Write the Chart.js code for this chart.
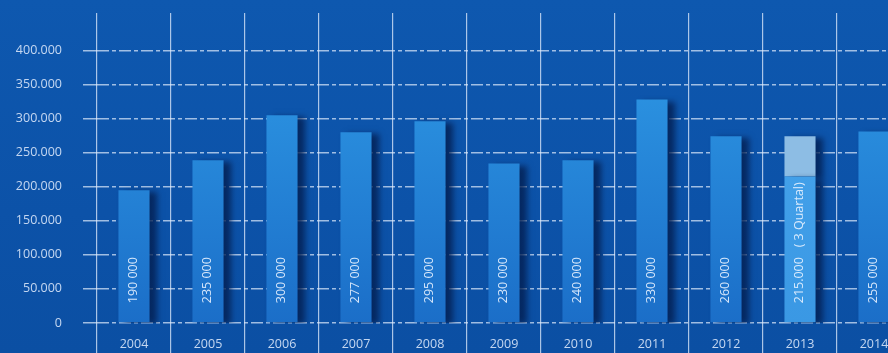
<!DOCTYPE html>
<html>
<head>
<meta charset="utf-8">
<script src="https://cdn.jsdelivr.net/npm/chart.js@4/dist/chart.umd.min.js"></script>
<style>
  html, body { margin: 0; padding: 0; overflow: hidden; }
  body { width: 888px; height: 353px; background: linear-gradient(#0e58af, #0c52a8 60%, #0b4fa3); }
  #wrap { position: absolute; left: 0; top: 0; width: 920px; height: 353px; }
</style>
</head>
<body>
<div id="wrap"><canvas id="chart"></canvas></div>
<script>
// chart data
const years = ["2004", "2005", "2006", "2007", "2008", "2009", "2010", "2011", "2012", "2013", "2014"];
const actual = [195000, 239000, 305000, 280000, 296000, 234000, 239000, 328000, 274000, 215000, 281000];
const projected = [0, 0, 0, 0, 0, 0, 0, 0, 0, 59000, 0];
const barLabels = ["190 000", "235 000", "300 000", "277 000", "295 000", "230 000", "240 000", "330 000", "260 000", "215.000   ( 3 Quartal)", "255 000"];
const yTickValues = [0, 50000, 100000, 150000, 200000, 250000, 300000, 350000, 400000];
const yTickLabels = ["0", "50.000", "100.000", "150.000", "200.000", "250.000", "300.000", "350.000", "400.000"];

function barFill(context, top, bottom) {
    const area = context.chart.chartArea;
    if (!area) return top;
    const g = context.chart.ctx.createLinearGradient(0, area.top, 0, area.bottom);
    g.addColorStop(0, top);
    g.addColorStop(1, bottom);
    return g;
}

// shadow behind bars + rotated value text inside bars
const barExtras = {
    id: "barExtras",
    beforeDatasetsDraw(chart) {
        const ctx = chart.ctx;
        ctx.save();
        ctx.shadowColor = "rgba(3, 30, 80, 0.8)";
        ctx.shadowBlur = 6;
        ctx.shadowOffsetX = 7;
        ctx.shadowOffsetY = 2;
    },
    afterDatasetsDraw(chart) {
        const ctx = chart.ctx;
        ctx.restore();
        const meta = chart.getDatasetMeta(0);
        ctx.save();
        ctx.fillStyle = "rgba(232, 242, 255, 0.9)";
        ctx.font = "12.5px 'Open Sans', sans-serif";
        ctx.textAlign = "left";
        ctx.textBaseline = "middle";
        meta.data.forEach(function (bar, i) {
            ctx.save();
            ctx.translate(bar.x - 1, bar.base - 19);
            ctx.rotate(-Math.PI / 2);
            ctx.fillText(barLabels[i], 0, 0);
            ctx.restore();
        });
        ctx.restore();
    }
};

new Chart(document.getElementById("chart"), {
    type: "bar",
    data: {
        labels: years,
        datasets: [
            {
                data: actual,
                backgroundColor: function (c) {
                    if (c.dataIndex === 9) return barFill(c, "#4ba8ee", "#3a98e4");
                    return barFill(c, "#309de8", "#1b6ec8");
                },
                barPercentage: 0.42,
                categoryPercentage: 1
            },
            {
                data: projected,
                backgroundColor: "#8dbde4",
                barPercentage: 0.42,
                categoryPercentage: 1
            }
        ]
    },
    plugins: [barExtras],
    options: {
        responsive: true,
        maintainAspectRatio: false,
        animation: false,
        layout: { padding: { top: 13, right: 9, left: 0, bottom: 0 } },
        plugins: { legend: { display: false }, tooltip: { enabled: false } },
        scales: {
            x: {
                stacked: true,
                afterFit: function (scale) { scale.height = 30; scale.paddingLeft = 0; scale.paddingRight = 0; },
                grid: {
                    offset: true,
                    color: "rgba(225, 236, 252, 0.75)",
                    lineWidth: 1.2,
                    tickLength: 30
                },
                border: { display: false },
                ticks: {
                    color: "rgba(215, 228, 248, 0.9)",
                    font: { family: "'Open Sans', sans-serif", size: 12.5 },
                    padding: -16
                }
            },
            y: {
                stacked: true,
                min: 0,
                max: 455000,
                afterFit: function (scale) { scale.width = 97; scale.paddingTop = 0; scale.paddingBottom = 0; },
                afterBuildTicks: function (scale) {
                    scale.ticks = yTickValues.map(function (v) { return { value: v }; });
                },
                grid: {
                    color: "rgba(225, 236, 252, 0.7)",
                    lineWidth: 1.5,
                    tickLength: 14
                },
                border: { display: false, dash: [12, 3, 4, 3] },
                ticks: {
                    color: "rgba(215, 228, 248, 0.9)",
                    font: { family: "'Open Sans', sans-serif", size: 12.5 },
                    padding: 21,
                    callback: function (value) {
                        const i = yTickValues.indexOf(value);
                        return i >= 0 ? yTickLabels[i] : "";
                    }
                }
            }
        }
    }
});
</script>
</body>
</html>
